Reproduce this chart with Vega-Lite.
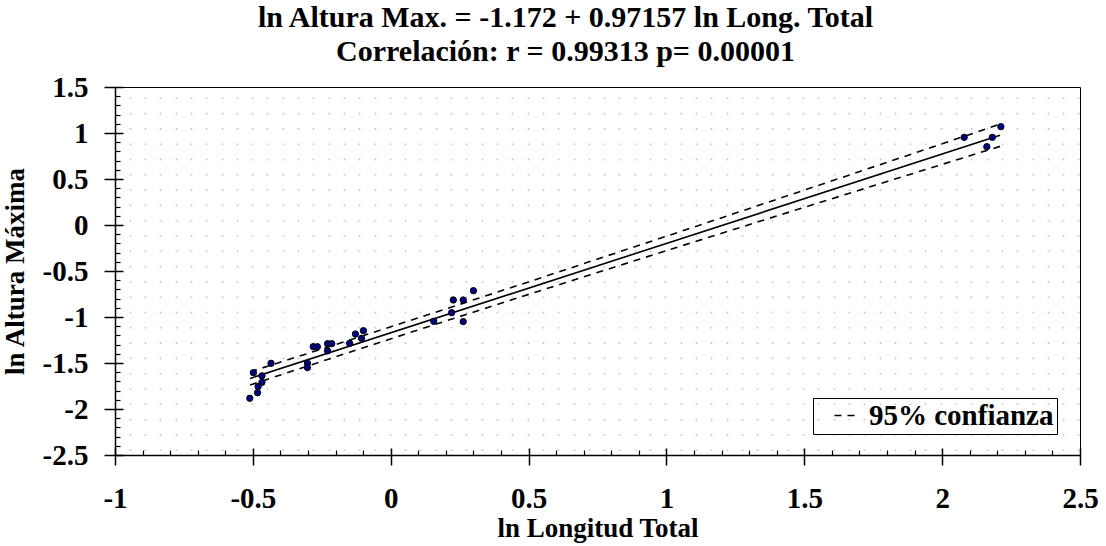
{
  "$schema": "https://vega.github.io/schema/vega-lite/v6.json",
  "width": 965,
  "height": 368,
  "autosize": "none",
  "padding": {"left": 115, "top": 87, "right": 26, "bottom": 91},
  "background": "white",
  "title": {
    "text": ["ln Altura Max. = -1.172 + 0.97157 ln Long. Total", "Correlación: r = 0.99313 p= 0.00001"],
    "font": "Liberation Serif",
    "fontWeight": "bold",
    "fontSize": 30,
    "lineHeight": 34,
    "color": "black",
    "anchor": "middle",
    "dx": -32,
    "offset": 6
  },
  "config": {
    "view": {"stroke": "black", "strokeWidth": 1},
    "axis": {
      "domainColor": "black",
      "domainWidth": 1.5,
      "tickColor": "black",
      "tickWidth": 1.5,
      "labelFont": "Liberation Serif",
      "labelFontWeight": "bold",
      "labelFontSize": 29,
      "labelColor": "black",
      "titleFont": "Liberation Serif",
      "titleFontWeight": "bold",
      "titleFontSize": 27,
      "titleColor": "black",
      "grid": false
    },
    "legend": {
      "labelFont": "Liberation Serif",
      "labelFontWeight": "bold",
      "labelFontSize": 29,
      "labelColor": "black",
      "labelLimit": 400
    }
  },
  "datasets": {
    "pts": [
      {"x": -0.511, "y": -1.883}, {"x": -0.483, "y": -1.823}, {"x": -0.481, "y": -1.757},
      {"x": -0.467, "y": -1.71}, {"x": -0.467, "y": -1.64}, {"x": -0.498, "y": -1.605},
      {"x": -0.434, "y": -1.503}, {"x": -0.302, "y": -1.503}, {"x": -0.302, "y": -1.55},
      {"x": -0.281, "y": -1.323}, {"x": -0.266, "y": -1.323}, {"x": -0.229, "y": -1.29},
      {"x": -0.214, "y": -1.29}, {"x": -0.229, "y": -1.368}, {"x": -0.149, "y": -1.286},
      {"x": -0.128, "y": -1.185}, {"x": -0.099, "y": -1.149}, {"x": -0.106, "y": -1.232},
      {"x": 0.156, "y": -1.047}, {"x": 0.221, "y": -0.953}, {"x": 0.227, "y": -0.815},
      {"x": 0.263, "y": -0.815}, {"x": 0.263, "y": -1.05}, {"x": 0.3, "y": -0.714},
      {"x": 2.08, "y": 0.953}, {"x": 2.182, "y": 0.953}, {"x": 2.162, "y": 0.851},
      {"x": 2.213, "y": 1.069}
    ],
    "fit": [
      {"x": -0.51, "y": -1.6675}, {"x": 2.21, "y": 0.9751}
    ],
    "band": [
      {"x": -0.51, "bound": "upper", "y": -1.596, "label": "95% confianza"},
      {"x": -0.2, "bound": "upper", "y": -1.2997, "label": "95% confianza"},
      {"x": 0.1, "bound": "upper", "y": -1.0098, "label": "95% confianza"},
      {"x": 0.5, "bound": "upper", "y": -0.6184, "label": "95% confianza"},
      {"x": 1.0, "bound": "upper", "y": -0.1223, "label": "95% confianza"},
      {"x": 1.5, "bound": "upper", "y": 0.3789, "label": "95% confianza"},
      {"x": 1.8, "bound": "upper", "y": 0.6812, "label": "95% confianza"},
      {"x": 2.0, "bound": "upper", "y": 0.8831, "label": "95% confianza"},
      {"x": 2.21, "bound": "upper", "y": 1.0955, "label": "95% confianza"},
      {"x": -0.51, "bound": "lower", "y": -1.739, "label": "95% confianza"},
      {"x": -0.2, "bound": "lower", "y": -1.4329, "label": "95% confianza"},
      {"x": 0.1, "bound": "lower", "y": -1.1398, "label": "95% confianza"},
      {"x": 0.5, "bound": "lower", "y": -0.754, "label": "95% confianza"},
      {"x": 1.0, "bound": "lower", "y": -0.2785, "label": "95% confianza"},
      {"x": 1.5, "bound": "lower", "y": 0.1919, "label": "95% confianza"},
      {"x": 1.8, "bound": "lower", "y": 0.4724, "label": "95% confianza"},
      {"x": 2.0, "bound": "lower", "y": 0.6591, "label": "95% confianza"},
      {"x": 2.21, "bound": "lower", "y": 0.8547, "label": "95% confianza"}
    ]
  },
  "resolve": {"axis": {"x": "independent", "y": "independent"}},
  "layer": [
    {
      "data": {"name": "pts"},
      "mark": {"type": "point", "opacity": 0},
      "encoding": {
        "x": {"field": "x", "type": "quantitative", "scale": {"domain": [-1, 2.5], "nice": false, "zero": false},
          "axis": {"orient": "bottom", "grid": true, "gridColor": "#c4c4c4", "gridWidth": 1.6, "gridDash": [1.6, 13.7], "gridDashOffset": 5.3,
            "domain": false, "ticks": false, "labels": false, "title": null,
            "values": [-0.9465,-0.891,-0.8355,-0.78,-0.7245,-0.669,-0.6135,-0.558,-0.5025,-0.447,-0.3915,-0.336,-0.2805,-0.225,-0.1695,-0.114,-0.0585,-0.003,0.0525,0.108,0.1635,0.219,0.2745,0.33,0.3855,0.441,0.4965,0.552,0.6075,0.663,0.7185,0.774,0.8295,0.885,0.9405,0.996,1.0515,1.107,1.1625,1.218,1.2735,1.329,1.3845,1.44,1.4955,1.551,1.6065,1.662,1.7175,1.773,1.8285,1.884,1.9395,1.995,2.0505,2.106,2.1615,2.217,2.2725,2.328,2.3835,2.439,2.4945]}},
        "y": {"field": "y", "type": "quantitative", "scale": {"domain": [-2.5, 1.5], "nice": false, "zero": false}, "axis": null}
      }
    },
    {
      "data": {"name": "band"},
      "mark": {"type": "line", "color": "black", "strokeWidth": 1.6},
      "encoding": {
        "x": {"field": "x", "type": "quantitative", "axis": null},
        "y": {"field": "y", "type": "quantitative", "axis": null},
        "detail": {"field": "bound"},
        "strokeDash": {"field": "label", "type": "nominal", "scale": {"range": [[7, 6]]},
          "legend": {"title": null, "orient": "none", "legendX": 698, "legendY": 311,
            "strokeColor": "black", "padding": 3, "symbolType": "stroke", "symbolSize": 400, "symbolOffset": 14,
            "symbolStrokeWidth": 1.5, "symbolStrokeColor": "black", "symbolDash": [7, 6], "labelOffset": 10}}
      }
    },
    {
      "data": {"name": "fit"},
      "mark": {"type": "line", "color": "black", "strokeWidth": 1.6},
      "encoding": {
        "x": {"field": "x", "type": "quantitative", "axis": null},
        "y": {"field": "y", "type": "quantitative", "axis": null}
      }
    },
    {
      "data": {"name": "pts"},
      "mark": {"type": "circle", "size": 40, "fill": "#000080", "stroke": "black", "strokeWidth": 1, "opacity": 1},
      "encoding": {
        "x": {"field": "x", "type": "quantitative",
          "axis": {"orient": "bottom", "title": "ln Longitud Total", "values": [-1, -0.5, 0, 0.5, 1, 1.5, 2, 2.5], "labelExpr": "'' + datum.value",
            "tickSize": 10, "labelPadding": 19, "titlePadding": 2, "labelFlush": false, "labelOverlap": false}},
        "y": {"field": "y", "type": "quantitative",
          "axis": {"orient": "left", "title": "ln Altura Máxima", "values": [-2.5, -2, -1.5, -1, -0.5, 0, 0.5, 1, 1.5], "labelExpr": "'' + datum.value",
            "tickSize": 11, "labelPadding": 16, "titlePadding": 13, "labelFlush": false, "labelOverlap": false}}
      }
    },
    {
      "data": {"name": "pts"},
      "mark": {"type": "point", "opacity": 0},
      "encoding": {
        "x": {"field": "x", "type": "quantitative",
          "axis": {"orient": "bottom", "title": null, "labels": false, "domain": false, "tickSize": -5, "tickWidth": 1.2,
            "values": [-0.9,-0.8,-0.7,-0.6,-0.4,-0.3,-0.2,-0.1,0.1,0.2,0.3,0.4,0.6,0.7,0.8,0.9,1.1,1.2,1.3,1.4,1.6,1.7,1.8,1.9,2.1,2.2,2.3,2.4]}},
        "y": {"field": "y", "type": "quantitative",
          "axis": {"orient": "left", "title": null, "labels": false, "domain": false, "tickSize": -5, "tickWidth": 1.2,
            "values": [-2.4,-2.3,-2.2,-2.1,-1.9,-1.8,-1.7,-1.6,-1.4,-1.3,-1.2,-1.1,-0.9,-0.8,-0.7,-0.6,-0.4,-0.3,-0.2,-0.1,0.1,0.2,0.3,0.4,0.6,0.7,0.8,0.9,1.1,1.2,1.3,1.4]}}
      }
    },
    {
      "data": {"name": "pts"},
      "mark": {"type": "point", "opacity": 0},
      "encoding": {
        "x": {"field": "x", "type": "quantitative",
          "axis": {"orient": "bottom", "title": null, "labels": false, "domain": false, "tickSize": -7,
            "values": [-1, -0.5, 0, 0.5, 1, 1.5, 2, 2.5]}},
        "y": {"field": "y", "type": "quantitative",
          "axis": {"orient": "left", "title": null, "labels": false, "domain": false, "tickSize": -8,
            "values": [-2.5, -2, -1.5, -1, -0.5, 0, 0.5, 1, 1.5]}}
      }
    }
  ]
}
